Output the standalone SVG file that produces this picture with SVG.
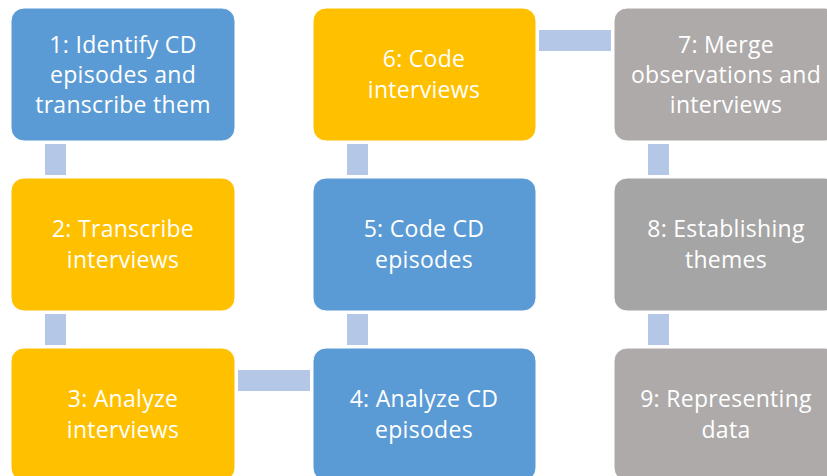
<svg xmlns="http://www.w3.org/2000/svg" width="827" height="476" viewBox="0 0 827 476">
<style>
.box{stroke:#ffffff;stroke-width:1}
.blue{fill:#5b9bd5}
.orange{fill:#ffc000}
.gray{fill:#a5a5a5}
.wgray{fill:#aeaaaa}
.lbl{font-family:"Open Sans","Liberation Sans",sans-serif;font-size:23px;letter-spacing:0.3px;fill:#ffffff;text-anchor:middle}
.conn{fill:#b4c7e7}
</style>
<rect width="827" height="476" fill="#ffffff"/>
<g id="connectors">
<rect class="conn" x="45" y="144" width="21" height="31"/>
<rect class="conn" x="45" y="314" width="21" height="31"/>
<rect class="conn" x="238" y="370" width="72" height="21"/>
<rect class="conn" x="347" y="314" width="21" height="31"/>
<rect class="conn" x="347" y="144" width="21" height="31"/>
<rect class="conn" x="539" y="30" width="72" height="21"/>
<rect class="conn" x="648" y="144" width="21" height="31"/>
<rect class="conn" x="648" y="314" width="21" height="31"/>
</g>
<g id="node1">
<rect class="box blue" x="11" y="8" width="224" height="133" rx="13"/>
<text class="lbl" x="123" y="53">1: Identify CD</text>
<text class="lbl" x="123" y="83">episodes and</text>
<text class="lbl" x="123" y="113">transcribe them</text>
</g>
<g id="node2">
<rect class="box orange" x="11" y="178" width="224" height="133" rx="13"/>
<text class="lbl" x="123" y="237">2: Transcribe</text>
<text class="lbl" x="123" y="268">interviews</text>
</g>
<g id="node3">
<rect class="box orange" x="11" y="348" width="224" height="133" rx="13"/>
<text class="lbl" x="123" y="407">3: Analyze</text>
<text class="lbl" x="123" y="438">interviews</text>
</g>
<g id="node4">
<rect class="box blue" x="313" y="348" width="223" height="133" rx="13"/>
<text class="lbl" x="424" y="407">4: Analyze CD</text>
<text class="lbl" x="424" y="438">episodes</text>
</g>
<g id="node5">
<rect class="box blue" x="313" y="178" width="223" height="133" rx="13"/>
<text class="lbl" x="424" y="237">5: Code CD</text>
<text class="lbl" x="424" y="268">episodes</text>
</g>
<g id="node6">
<rect class="box orange" x="313" y="8" width="223" height="133" rx="13"/>
<text class="lbl" x="424" y="67">6: Code</text>
<text class="lbl" x="424" y="98">interviews</text>
</g>
<g id="node7">
<rect class="box wgray" x="614" y="8" width="224" height="133" rx="13"/>
<text class="lbl" x="726" y="53">7: Merge</text>
<text class="lbl" x="726" y="83">observations and</text>
<text class="lbl" x="726" y="113">interviews</text>
</g>
<g id="node8">
<rect class="box gray" x="614" y="178" width="224" height="133" rx="13"/>
<text class="lbl" x="726" y="237">8: Establishing</text>
<text class="lbl" x="726" y="268">themes</text>
</g>
<g id="node9">
<rect class="box wgray" x="614" y="348" width="224" height="133" rx="13"/>
<text class="lbl" x="726" y="407">9: Representing</text>
<text class="lbl" x="726" y="438">data</text>
</g>
</svg>
